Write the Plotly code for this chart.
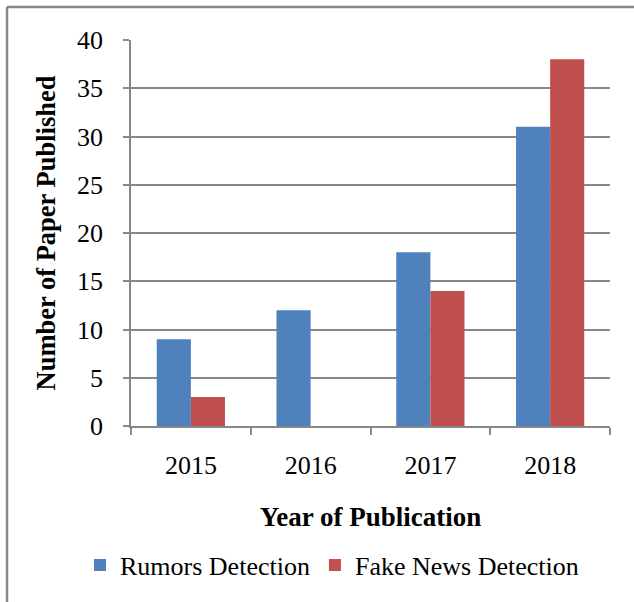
import plotly.graph_objects as go

years = ["2015", "2016", "2017", "2018"]
rumors = [9, 12, 18, 31]
fake_news = [3, 0, 14, 38]
series_names = ["Rumors Detection", "Fake News Detection"]
y_ticks = [0, 5, 10, 15, 20, 25, 30, 35, 40]

FONT = "Liberation Serif"
GRAY = "#888888"

fig = go.Figure()
fig.add_trace(go.Bar(x=years, y=rumors, name=series_names[0],
                     marker=dict(color="#4F81BD", line=dict(width=0))))
fig.add_trace(go.Bar(x=years, y=fake_news, name=series_names[1],
                     marker=dict(color="#C0504D", line=dict(width=0))))

fig.update_layout(
    width=634, height=602,
    margin=dict(l=131, r=24, t=40, b=176, pad=0),
    paper_bgcolor="white", plot_bgcolor="white",
    barmode="group", bargap=0.43, bargroupgap=0,
    font=dict(family=FONT, size=26, color="black"),
    legend=dict(orientation="h", x=(80 - 131) / 479, xanchor="left",
                y=-(565 - 426) / 386, yanchor="middle",
                font=dict(family=FONT, size=26, color="black"), itemwidth=30, tracegroupgap=0),
    xaxis=dict(type="category", showline=True, linecolor=GRAY, linewidth=1.5,
               ticks="outside", tickson="boundaries", ticklen=7, tickcolor=GRAY, tickwidth=1.5,
               showgrid=False, tickfont=dict(family=FONT, size=26), ticklabelstandoff=15,
               title=dict(text="<b>Year of Publication</b>", font=dict(family=FONT, size=27), standoff=28)),
    yaxis=dict(range=[0, 40], tickvals=y_ticks, showline=True, linecolor=GRAY, linewidth=1.5,
               ticks="outside", ticklen=6, tickcolor=GRAY, tickwidth=1.5,
               showgrid=True, gridcolor=GRAY, gridwidth=1.5, zeroline=False,
               tickfont=dict(family=FONT, size=26), ticklabelstandoff=15,
               title=dict(text="<b>Number of Paper Published</b>", font=dict(family=FONT, size=26.5), standoff=14)),
    shapes=[
        dict(type="line", xref="paper", yref="paper", x0=(7 - 131) / 479, x1=(640 - 131) / 479,
             y0=(602 - 176 - 7) / 386, y1=(602 - 176 - 7) / 386, line=dict(color=GRAY, width=2.5)),
        dict(type="line", xref="paper", yref="paper", x0=(7 - 131) / 479, x1=(7 - 131) / 479,
             y0=(602 - 176 - 7) / 386, y1=(602 - 176 - 610) / 386, line=dict(color=GRAY, width=2.5)),
    ],
)

fig.write_html("out.html")
